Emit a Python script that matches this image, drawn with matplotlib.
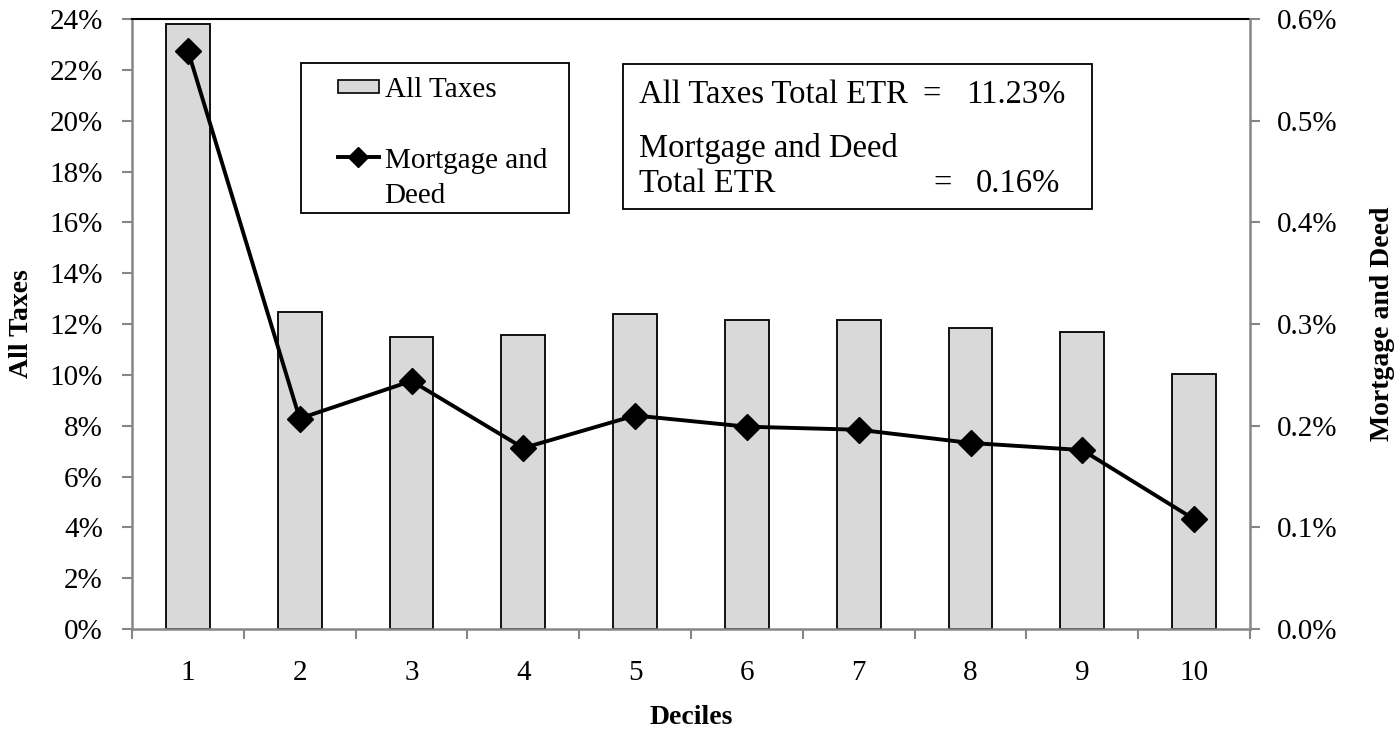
import numpy as np
import matplotlib.pyplot as plt
from matplotlib.patches import Patch, Rectangle
from matplotlib.lines import Line2D
from matplotlib.legend_handler import HandlerLine2D
from matplotlib.ticker import FuncFormatter, MultipleLocator

plt.rcParams['font.family'] = ['Liberation Serif', 'DejaVu Serif']

# effective tax rates by income decile, in percent
deciles = np.arange(1, 11)
all_taxes = [23.8, 12.48, 11.47, 11.55, 12.38, 12.17, 12.17, 11.85, 11.67, 10.03]
mortgage_deed = [0.569, 0.207, 0.244, 0.178, 0.210, 0.199, 0.196, 0.183, 0.176, 0.108]
total_etr_all = 11.23
total_etr_md = 0.16

W, H = 1397, 738
GRAY = '#868686'


def fx(px):
    return px / W


def fy(py):
    return 1 - py / H


class RaisedLineHandler(HandlerLine2D):
    # puts the line key level with the first line of a two-line label
    def __init__(self, lift=0.75, **kw):
        super().__init__(**kw)
        self.lift = lift

    def create_artists(self, legend, orig_handle, xdescent, ydescent,
                       width, height, fontsize, trans):
        return super().create_artists(legend, orig_handle, xdescent,
                                      ydescent - 2 * self.lift * fontsize,
                                      width, height, fontsize, trans)


fig = plt.figure(figsize=(W / 100, H / 100), dpi=100)
ax = fig.add_axes([fx(132), fy(629), fx(1250 - 132), (629 - 19) / H])

ax.bar(deciles, all_taxes, width=0.39, color='#d9d9d9', edgecolor='black',
       linewidth=1.3, zorder=2)
ax.set_xlim(0.5, 10.5)
ax.set_ylim(0, 24)
ax.yaxis.set_major_locator(MultipleLocator(2))
ax.yaxis.set_major_formatter(FuncFormatter(lambda v, p: f'{v:.0f}%'))
ax.set_xticks(deciles)
ax.set_xticks(np.arange(0.5, 11, 1), minor=True)
ax.tick_params(axis='x', which='major', length=0, pad=22, labelsize=21)
ax.tick_params(axis='x', which='minor', length=7, width=1.5, color=GRAY)
ax.tick_params(axis='y', length=7, width=1.5, color=GRAY, pad=14, labelsize=21)

for s in ['left', 'bottom']:
    ax.spines[s].set_color(GRAY)
    ax.spines[s].set_linewidth(1.8)
ax.spines['right'].set_visible(False)
ax.spines['top'].set_color('black')
ax.spines['top'].set_linewidth(1.5)

ax.set_xlabel('Deciles', fontsize=20, fontweight='bold', labelpad=14)
ax.set_ylabel('All Taxes', fontsize=20, fontweight='bold')
ax.yaxis.set_label_coords(-0.088, 0.5)

ax2 = ax.twinx()
ax2.plot(deciles, mortgage_deed, color='black', linewidth=2.8, marker='D',
         markersize=13, zorder=3)
ax2.set_ylim(0, 0.6)
ax2.yaxis.set_major_locator(MultipleLocator(0.1))
ax2.yaxis.set_major_formatter(FuncFormatter(lambda v, p: f'{v:.1f}%'))
ax2.tick_params(axis='y', length=7, width=1.5, color=GRAY, pad=12, labelsize=21)
for s in ['left', 'bottom', 'top']:
    ax2.spines[s].set_visible(False)
ax2.spines['right'].set_color(GRAY)
ax2.spines['right'].set_linewidth(1.8)
ax2.set_ylabel('Mortgage and Deed', fontsize=20, fontweight='bold')
ax2.yaxis.set_label_coords(1.107, 0.5)

# legend, with its own frame
handles = [Patch(facecolor='#d9d9d9', edgecolor='black', linewidth=1.2),
           Line2D([], [], color='black', linewidth=2.8, marker='D', markersize=10)]
leg = ax2.legend(handles, ['All Taxes', 'Mortgage and\nDeed'],
                 loc='upper left', bbox_to_anchor=(fx(338), fy(77)),
                 bbox_transform=fig.transFigure, frameon=False, fontsize=21,
                 borderpad=0, borderaxespad=0, handlelength=1.4,
                 handleheight=0.35, handletextpad=0.2, labelspacing=1.53,
                 handler_map={handles[1]: RaisedLineHandler(lift=0.76)})
leg.get_texts()[1].set_linespacing(1.45)
fig.add_artist(Rectangle((fx(301), fy(213)), fx(569 - 301), (213 - 63) / H,
                         transform=fig.transFigure, fill=False,
                         edgecolor='black', linewidth=1.3))

# total ETR box
fig.add_artist(Rectangle((fx(623), fy(209)), fx(1092 - 623), (209 - 64) / H,
                         transform=fig.transFigure, fill=False,
                         edgecolor='black', linewidth=1.3))
fs = 23.5
fig.text(fx(639), fy(103), 'All Taxes Total ETR', fontsize=fs, va='baseline')
fig.text(fx(932), fy(103), '=', fontsize=fs, va='baseline', ha='center')
fig.text(fx(966), fy(103), f'{total_etr_all:.2f}%', fontsize=fs, va='baseline')
fig.text(fx(639), fy(157), 'Mortgage and Deed', fontsize=fs, va='baseline')
fig.text(fx(639), fy(192), 'Total ETR', fontsize=fs, va='baseline')
fig.text(fx(943), fy(192), '=', fontsize=fs, va='baseline', ha='center')
fig.text(fx(976), fy(192), f'{total_etr_md:.2f}%', fontsize=fs, va='baseline')

fig.savefig('out.png', dpi=100)
